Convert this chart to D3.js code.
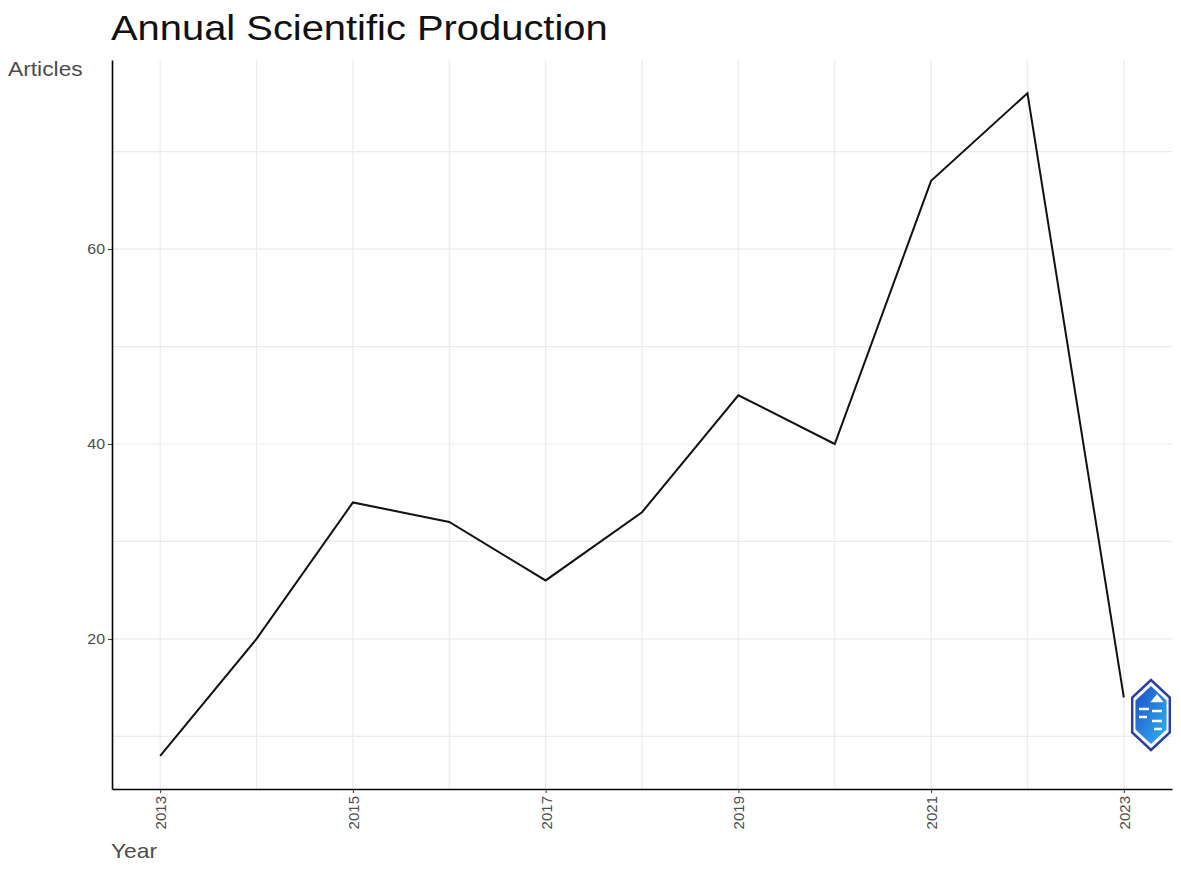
<!DOCTYPE html>
<html><head><meta charset="utf-8">
<script src="https://cdn.jsdelivr.net/npm/d3@7"></script>
<style>body{margin:0;background:#fff;} svg{display:block;}</style>
</head><body>
<svg id="chart" width="1181" height="871"></svg>
<script>
const years = [2013,2014,2015,2016,2017,2018,2019,2020,2021,2022,2023];
const articles = [8,20,34,32,26,33,45,40,67,76,14];
const xTicks = [2013,2015,2017,2019,2021,2023];
const yTicks = [20,40,60];
const yMinor = [10,30,50,70];
const titleText = "Annual Scientific Production";

const svg = d3.select("#chart");
const pL = 112, pR = 1172, pT = 60, pB = 789;
const x = d3.scaleLinear().domain([2012.5, 2023.5]).range([pL, pR]);
const y = d3.scaleLinear().domain([4.6, 79.4]).range([pB, pT]);
const font = "'Liberation Sans', Arial, sans-serif";
const SX = 1.14;

// grid
const g = svg.append("g");
g.selectAll(".vg").data(years).enter().append("line")
  .attr("x1", d=>x(d)).attr("x2", d=>x(d)).attr("y1", pT).attr("y2", pB)
  .attr("stroke", "#ebebeb").attr("stroke-width", 1.2);
g.selectAll(".hg").data(yTicks.concat(yMinor)).enter().append("line")
  .attr("x1", pL).attr("x2", pR).attr("y1", d=>y(d)).attr("y2", d=>y(d))
  .attr("stroke", "#ebebeb").attr("stroke-width", 1.2);

// line
svg.append("path").datum(years.map((d,i)=>[d, articles[i]]))
  .attr("d", d3.line().x(d=>x(d[0])).y(d=>y(d[1])))
  .attr("fill", "none").attr("stroke", "#111").attr("stroke-width", 2);

// axes
const xAxis = svg.append("g").attr("transform", `translate(0,${pB})`)
  .call(d3.axisBottom(x).tickValues(xTicks).tickFormat(d3.format("d")).tickSize(4).tickSizeOuter(0));
xAxis.select(".domain").attr("stroke", "#000").attr("stroke-width", 1.6);
xAxis.selectAll(".tick line").attr("stroke", "#333");
xAxis.selectAll(".tick text")
  .attr("transform", "rotate(-90)").attr("text-anchor", "end")
  .attr("x", -7).attr("y", 0).attr("dy", "0.36em")
  .attr("font-family", font).attr("font-size", 15).attr("fill", "#4d4d4d");

const yAxis = svg.append("g").attr("transform", `translate(${pL},0)`)
  .call(d3.axisLeft(y).tickValues(yTicks).tickSize(4).tickSizeOuter(0));
yAxis.select(".domain").attr("stroke", "#000").attr("stroke-width", 1.6);
yAxis.selectAll(".tick line").attr("stroke", "#333");
yAxis.selectAll(".tick text").attr("font-family", font).attr("font-size", 14).attr("fill", "#4d4d4d")
  .attr("x", 0).attr("transform", `translate(-7,0) scale(${SX},1)`);

// texts
function label(txt, tx, ty, size, color) {
  svg.append("text").attr("transform", `translate(${tx},${ty}) scale(${SX},1)`).text(txt)
    .attr("font-family", font).attr("font-size", size).attr("fill", color);
}
label(titleText, 111, 40, 35, "#111");
label("Articles", 8, 76, 20, "#4d4d4d");
label("Year", 111, 858, 20, "#4d4d4d");

// logo
const defs = svg.append("defs");
const grad = defs.append("linearGradient").attr("id","lg").attr("x1","0").attr("y1","0").attr("x2","1").attr("y2","1");
grad.append("stop").attr("offset","0").attr("stop-color","#1f4fc8");
grad.append("stop").attr("offset","1").attr("stop-color","#2fb4ee");
const cx = 1151, cy = 715, R = 35;
const hex = r => d3.range(6).map(i => {const a = Math.PI/3*i - Math.PI/2; return [cx + r*Math.cos(a)*0.62, cy + r*Math.sin(a)];});
svg.append("polygon").attr("points", hex(R).map(p=>p.join(",")).join(" "))
  .attr("fill","none").attr("stroke","#2a3f9e").attr("stroke-width",2.5);
svg.append("polygon").attr("points", hex(R-6).map(p=>p.join(",")).join(" "))
  .attr("fill","url(#lg)");
svg.append("path").attr("d", `M${cx-12},${cy-6} h10 M${cx-12},${cy+2} h8 M${cx+2},${cy-14} l4,-5 l4,5 z M${cx+1},${cy-4} h10 M${cx+1},${cy+6} h10 M${cx+3},${cy+14} h8`)
  .attr("stroke","#fff").attr("stroke-width",2.5).attr("fill","#fff");
</script>
</body></html>
